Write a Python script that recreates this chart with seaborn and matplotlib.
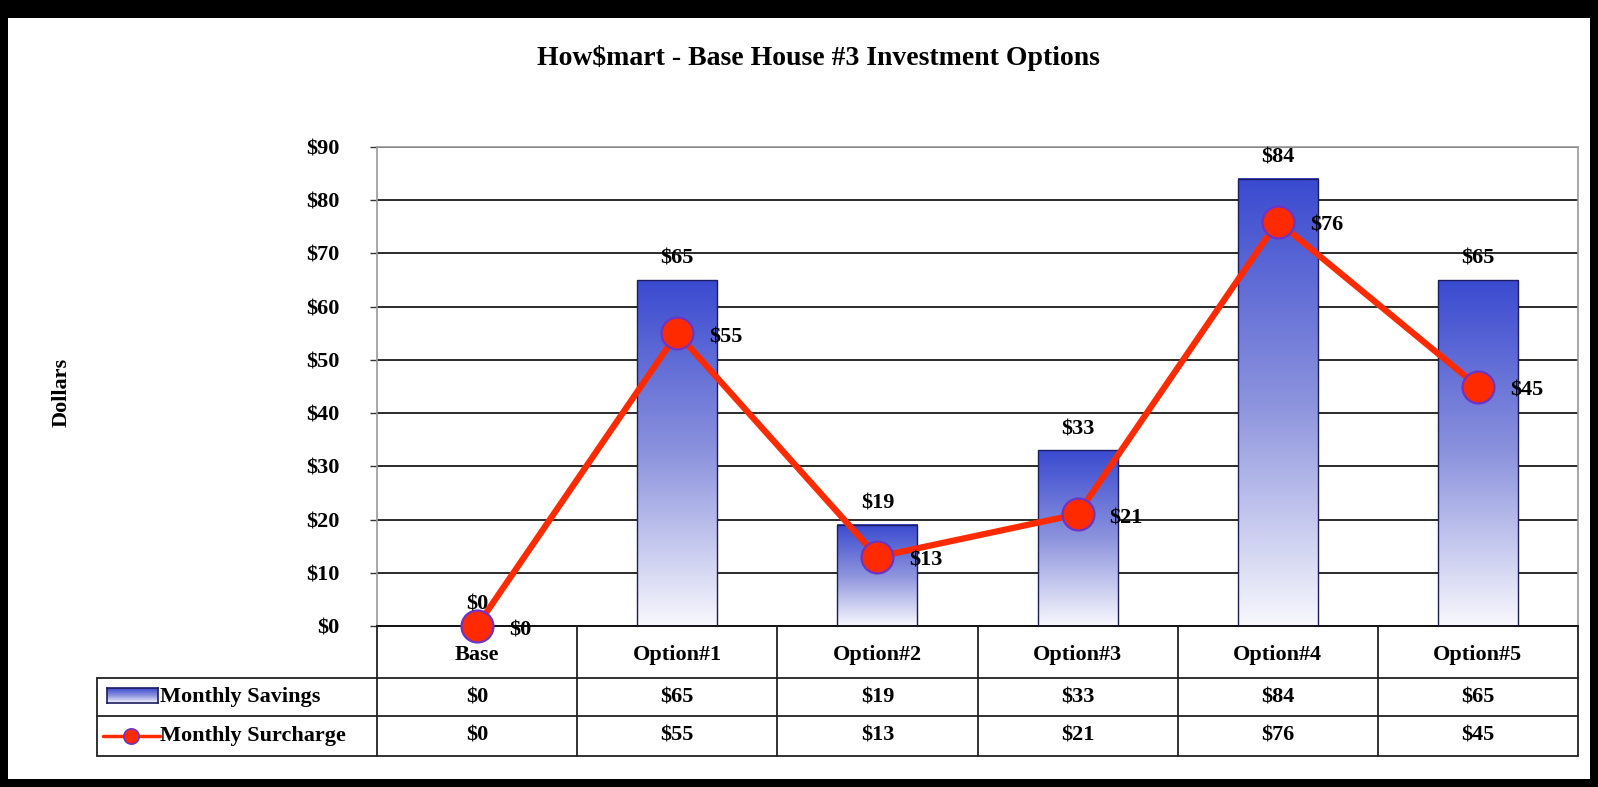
import numpy as np
import pandas as pd
import matplotlib
matplotlib.use('Agg')
import matplotlib.pyplot as plt
import matplotlib.transforms as mtrans
from matplotlib.colors import LinearSegmentedColormap
from matplotlib.patches import Rectangle
from matplotlib.lines import Line2D
import seaborn as sns

# chart data
categories = ['Base', 'Option#1', 'Option#2', 'Option#3', 'Option#4', 'Option#5']
monthly_savings = [0, 65, 19, 33, 84, 65]
monthly_surcharge = [0, 55, 13, 21, 76, 45]
y_ticks = [0, 10, 20, 30, 40, 50, 60, 70, 80, 90]
series_names = ['Monthly Savings', 'Monthly Surcharge']
title = 'How$mart - Base House #3 Investment Options'
y_label = 'Dollars'

sns.set_theme(style='white')
plt.rcParams['font.family'] = ['Liberation Serif', 'DejaVu Serif']
plt.rcParams['font.weight'] = 'bold'
plt.rcParams['text.color'] = 'black'
plt.rcParams['ytick.color'] = 'black'
plt.rcParams['xtick.color'] = 'black'

W, H = 1598, 787
fig = plt.figure(figsize=(W / 100, H / 100), dpi=100)
fig.patch.set_facecolor('white')

def fx(px):
    return px / W

def fy(py):
    return 1 - py / H

ax_l, ax_r, ax_t, ax_b = 377, 1578, 147, 626
ax = fig.add_axes([fx(ax_l), fy(ax_b), fx(ax_r - ax_l), (ax_b - ax_t) / H])

df = pd.DataFrame({'category': categories, 'savings': monthly_savings})
sns.barplot(data=df, x='category', y='savings', ax=ax, width=0.4,
            color='#3a4bd0', edgecolor='#1c1c5e', linewidth=1.0, zorder=3)

# gradient fill for the bars (white at the bottom, blue at the top)
grad_cmap = LinearSegmentedColormap.from_list('bar_grad', ['#f8f8fd', '#8c93dd', '#3a4ad0'])
grad = np.linspace(0, 1, 256).reshape(-1, 1)
for p in ax.patches:
    x0, y0 = p.get_x(), p.get_y()
    w, h = p.get_width(), p.get_height()
    if h > 0:
        ax.imshow(grad, cmap=grad_cmap, origin='lower', aspect='auto',
                  extent=[x0, x0 + w, y0, y0 + h], zorder=2.5)
    p.set_facecolor('none')

ax.set_aspect('auto')
ax.set_xlim(-0.5, len(categories) - 0.5)
ax.set_ylim(0, 90)

# surcharge line
xpos = np.arange(len(categories))
ax.plot(xpos, monthly_surcharge, color='#ff2a00', lw=4.5, marker='o', ms=23,
        mfc='#ff2a00', mec='#6a35c8', mew=1.6, zorder=5, clip_on=False)

# data labels
for i, v in enumerate(monthly_savings):
    ax.annotate(f'${v}', (i, v), xytext=(0, 8), textcoords='offset points',
                ha='center', va='bottom', fontsize=16, fontweight='bold', zorder=6)
for i, v in enumerate(monthly_surcharge):
    ax.annotate(f'${v}', (i, v), xytext=(23, -3), textcoords='offset points',
                ha='left', va='center', fontsize=16, fontweight='bold', zorder=6)

# axes styling
ax.set_yticks(y_ticks)
ax.set_yticklabels([f'${v}' for v in y_ticks], fontsize=16, fontweight='bold')
ax.tick_params(axis='y', length=5, width=1, color='#333333', pad=22, left=True)
ax.set_xticks([])
ax.set_xlabel('')
ax.set_ylabel('')
ax.yaxis.grid(True, color='#1a1a1a', lw=1.3, zorder=1)
ax.set_axisbelow(True)
for side in ['top', 'right', 'left']:
    ax.spines[side].set_color('#9a9a9a')
    ax.spines[side].set_linewidth(1.2)
ax.spines['bottom'].set_color('#111111')
ax.spines['bottom'].set_linewidth(1.4)

# data table below the plot
bt = mtrans.blended_transform_factory(ax.transData, fig.transFigure)
row_top, row1, row2, row_bot = 626, 678, 716, 756
tab_left = 97
lc = '#222222'
for i in range(len(categories) + 1):
    fig.add_artist(Line2D([i - 0.5, i - 0.5], [fy(row_top), fy(row_bot)],
                          transform=bt, color=lc, lw=1.3))
for yy in [row1, row2, row_bot]:
    fig.add_artist(Line2D([fx(tab_left), fx(ax_r)], [fy(yy), fy(yy)],
                          transform=fig.transFigure, color=lc, lw=1.3))
fig.add_artist(Line2D([fx(tab_left), fx(tab_left)], [fy(row1), fy(row_bot)],
                      transform=fig.transFigure, color=lc, lw=1.3))

for i, c in enumerate(categories):
    txt = fig.text(i, fy(655), c, ha='center', va='center', fontsize=16, fontweight='bold')
    txt.set_transform(bt)
    t1 = fig.text(i, fy((row1 + row2) / 2), f'${monthly_savings[i]}', ha='center', va='center',
                  fontsize=16, fontweight='bold')
    t1.set_transform(bt)
    t2 = fig.text(i, fy((row2 + row_bot) / 2), f'${monthly_surcharge[i]}', ha='center', va='center',
                  fontsize=16, fontweight='bold')
    t2.set_transform(bt)

# legend keys inside the table
kax = fig.add_axes([fx(107), fy(703), fx(51), 15 / H])
kax.imshow(grad, cmap=grad_cmap, origin='lower', aspect='auto', extent=[0, 1, 0, 1])
kax.set_xticks([])
kax.set_yticks([])
for s in kax.spines.values():
    s.set_color('#1c1c5e')
    s.set_linewidth(1.2)
fig.add_artist(Line2D([fx(103), fx(160)], [fy(736), fy(736)], transform=fig.transFigure,
                      color='#ff2a00', lw=2.5))
fig.add_artist(Line2D([fx(131)], [fy(736)], transform=fig.transFigure, marker='o', ms=11,
                      mfc='#ff2a00', mec='#6a35c8', mew=1.2, lw=0))
fig.text(fx(160), fy(697), series_names[0], ha='left', va='center', fontsize=16, fontweight='bold')
fig.text(fx(160), fy(736), series_names[1], ha='left', va='center', fontsize=16, fontweight='bold')

# titles
fig.text(fx(818), fy(58), title, ha='center', va='center', fontsize=20, fontweight='bold')
fig.text(fx(62), fy(392), y_label, ha='center', va='center', rotation=90,
         fontsize=16, fontweight='bold')

# black frame around the chart
for (x0, y0, w, h) in [(0, 0, W, 18), (0, 0, 8, H), (W - 8, 0, 8, H), (0, H - 8, W, 8)]:
    fig.add_artist(Rectangle((fx(x0), fy(y0 + h)), w / W, h / H, transform=fig.transFigure,
                             facecolor='black', edgecolor='none'))

fig.savefig('out.png', dpi=100)
